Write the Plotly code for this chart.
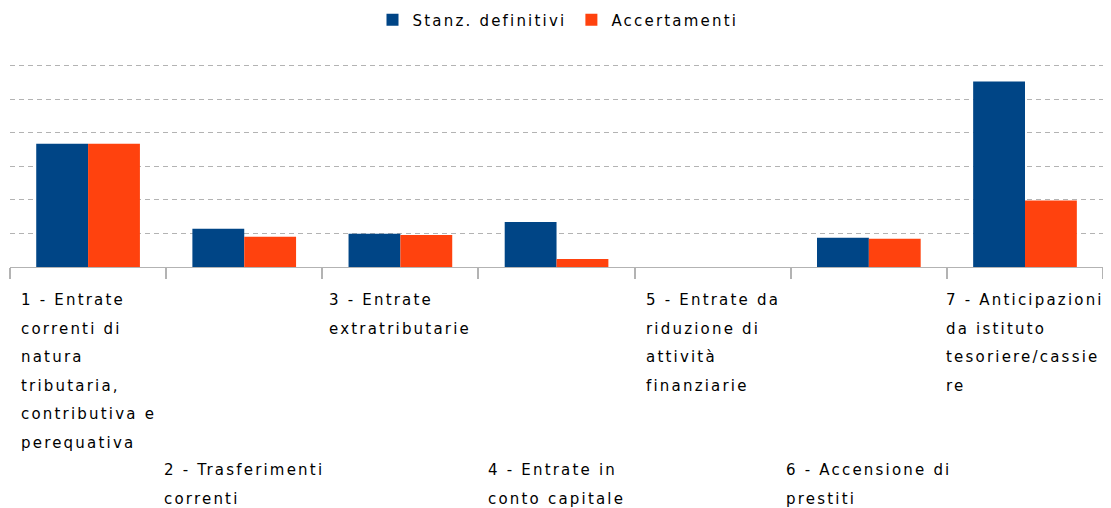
import plotly.graph_objects as go

categories = [
    "1 - Entrate correnti di natura tributaria, contributiva e perequativa",
    "2 - Trasferimenti correnti",
    "3 - Entrate extratributarie",
    "4 - Entrate in conto capitale",
    "5 - Entrate da riduzione di attività finanziarie",
    "6 - Accensione di prestiti",
    "7 - Anticipazioni da istituto tesoriere/cassiere",
]
label_lines = [
    ["1 - Entrate", "correnti di", "natura", "tributaria,", "contributiva e", "perequativa"],
    ["2 - Trasferimenti", "correnti"],
    ["3 - Entrate", "extratributarie"],
    ["4 - Entrate in", "conto capitale"],
    ["5 - Entrate da", "riduzione di", "attività", "finanziarie"],
    ["6 - Accensione di", "prestiti"],
    ["7 - Anticipazioni", "da istituto", "tesoriere/cassie", "re"],
]
series_names = ["Stanz. definitivi", "Accertamenti"]
stanz_definitivi = [3.67, 1.14, 0.99, 1.34, 0.0, 0.87, 5.53]
accertamenti = [3.67, 0.90, 0.95, 0.24, 0.0, 0.84, 1.98]

FONT = "DejaVu Sans"
SPAN = '<span style="font-size:15px;letter-spacing:2.2px">{}</span>'

fig = go.Figure()
fig.add_trace(go.Bar(name=SPAN.format(series_names[0]), x=categories, y=stanz_definitivi,
                     marker=dict(color="#004586", line=dict(width=0))))
fig.add_trace(go.Bar(name=SPAN.format(series_names[1]), x=categories, y=accertamenti,
                     marker=dict(color="#ff420e", line=dict(width=0))))

for i, lines in enumerate(label_lines):
    text = "<br>".join(SPAN.format(l) for l in lines)
    fig.add_annotation(
        x=categories[i], xref="x", y=0, yref="paper",
        xanchor="center", yanchor="top", align="left",
        yshift=-22 if i % 2 == 0 else -192,
        text=text, showarrow=False,
        font=dict(family=FONT, size=22, color="#000000"),
    )

fig.update_layout(
    width=1111, height=508,
    margin=dict(l=2, r=13, t=56, b=249),
    paper_bgcolor="white", plot_bgcolor="white",
    barmode="group", bargap=0.336, bargroupgap=0,
    font=dict(family=FONT, size=15, color="#000000"),
    showlegend=True,
    legend=dict(orientation="h", x=0.5, xanchor="center", y=1 - 12 / 508, yref="container",
                yanchor="middle", font=dict(family=FONT, size=15, color="#000000"),
                itemwidth=30, tracegroupgap=0),
    xaxis=dict(showticklabels=False, ticks="outside", tickson="boundaries", ticklen=11,
               tickcolor="#b3b3b3", tickwidth=2, showline=True, linecolor="#b3b3b3", linewidth=1,
               showgrid=False),
    yaxis=dict(range=[0, 6.05], dtick=1, showticklabels=False, showgrid=True,
               gridcolor="#b3b3b3", griddash="5px,4px", gridwidth=1, zeroline=False,
               showline=False),
)

fig.write_html("out.html")
